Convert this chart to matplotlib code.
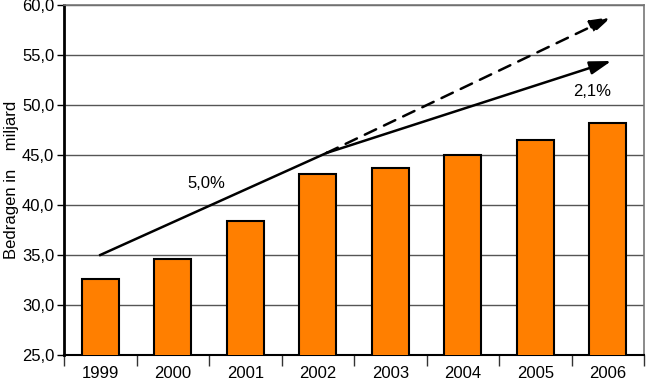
import matplotlib
matplotlib.use("Agg")
import matplotlib.pyplot as plt
import numpy as np

plt.rcParams['font.family'] = ['Liberation Sans', 'DejaVu Sans']

years = ['1999', '2000', '2001', '2002', '2003', '2004', '2005', '2006']
amounts = [32.6, 34.6, 38.4, 43.1, 43.7, 45.0, 46.5, 48.2]

# trend arrows (x in category index, y in miljard)
trend_start = (0.0, 35.0)
trend_kink = (3.12, 45.2)
trend_end_solid = (7.05, 54.4)
trend_end_dashed = (7.05, 58.8)
label_low = '5,0%'
label_high = '2,1%'

yticks = [25, 30, 35, 40, 45, 50, 55, 60]

fig = plt.figure(figsize=(6.48, 3.82), dpi=100)
ax = fig.add_axes([64 / 648, 27 / 382, 580 / 648, 350 / 382])

x = np.arange(len(years))
ax.bar(x, amounts, width=0.51, bottom=0, color='#ff7f00', edgecolor='black',
       linewidth=1.5, zorder=3)

ax.set_xlim(-0.5, len(years) - 0.5)
ax.set_ylim(25, 60)
ax.set_yticks(yticks)
ax.set_yticklabels([f"{v:.1f}".replace('.', ',') for v in yticks], fontsize=12)
ax.yaxis.grid(True, color='#555555', linewidth=1.0, zorder=0)
ax.set_axisbelow(True)

# x ticks at category boundaries, labels centered below bars
ax.set_xticks(np.arange(-0.5, len(years), 1.0))
ax.set_xticklabels([])
ax.set_xticks(x, minor=True)
ax.set_xticklabels(years, minor=True, fontsize=12)
ax.tick_params(axis='x', which='major', length=8, width=1, color='#333333')
ax.tick_params(axis='x', which='minor', length=0, pad=8)
ax.tick_params(axis='y', length=5, width=1, pad=2)

for s in ['top', 'right']:
    ax.spines[s].set_color('#777777')
    ax.spines[s].set_linewidth(1.2)
ax.spines['left'].set_linewidth(2)
ax.spines['bottom'].set_linewidth(1.5)

ax.set_ylabel('Bedragen in    miljard', fontsize=12, labelpad=2)

# trend lines
ax.plot([trend_start[0], trend_kink[0]], [trend_start[1], trend_kink[1]],
        color='black', linewidth=1.8, zorder=4)
ax.annotate('', xy=trend_end_solid, xytext=trend_kink,
            arrowprops=dict(arrowstyle='-|>,head_length=1.3,head_width=0.4',
                            color='black', lw=1.8, shrinkA=0, shrinkB=0),
            zorder=4)
ax.annotate('', xy=trend_end_dashed, xytext=trend_kink,
            arrowprops=dict(arrowstyle='-|>,head_length=1.3,head_width=0.4',
                            color='black', lw=1.8, linestyle=(0, (5, 3.5)),
                            shrinkA=0, shrinkB=0),
            zorder=4)

ax.text(1.47, 42.2, label_low, fontsize=12, ha='center', va='center')
ax.text(6.79, 51.4, label_high, fontsize=12, ha='center', va='center')

fig.savefig('out.png', dpi=100)
